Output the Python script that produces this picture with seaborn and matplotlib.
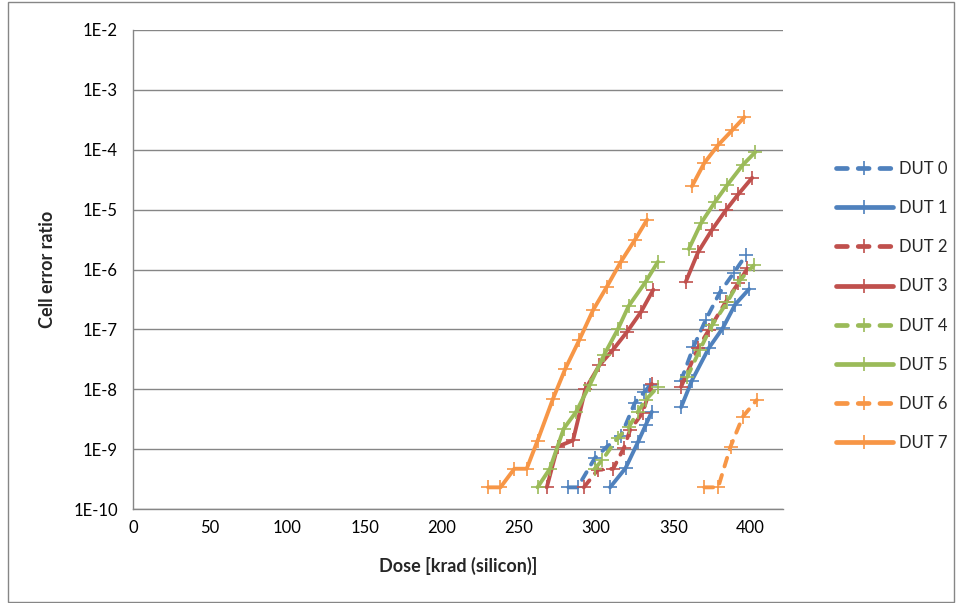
import numpy as np
import pandas as pd
import matplotlib
matplotlib.use("Agg")
import matplotlib.pyplot as plt
import seaborn as sns
from matplotlib.lines import Line2D
from matplotlib.patches import Rectangle

nan = np.nan

duts = ["DUT 0", "DUT 1", "DUT 2", "DUT 3", "DUT 4", "DUT 5", "DUT 6", "DUT 7"]

dose_0 = [282, 288, 299, 307, 316, 325, 331, 335, nan, 355, 363, 371, 380, 389, 397]
ratio_0 = [2.3e-10, 2.3e-10, 7.0e-10, 1.1e-9, 1.65e-9, 5.9e-9, 8.9e-9, 1.17e-8, nan,
           1.4e-8, 5.1e-8, 1.45e-7, 4.1e-7, 8.7e-7, 1.74e-6]

dose_1 = [309, 319, 327, 332, 336, nan, 355, 362, 373, 382, 390, 399]
ratio_1 = [2.3e-10, 4.8e-10, 1.3e-9, 2.5e-9, 4.2e-9, nan,
           5.0e-9, 1.4e-8, 4.9e-8, 1.05e-7, 2.6e-7, 4.7e-7]

dose_2 = [292, 301, 311, 318, 322, 330, 336, nan, 355, 366, 373, 384, 392, 398]
ratio_2 = [2.3e-10, 4.5e-10, 4.7e-10, 1.05e-9, 2.1e-9, 4.0e-9, 1.23e-8, nan,
           1.1e-8, 4.9e-8, 9.8e-8, 2.9e-7, 5.9e-7, 1.05e-6]

dose_3 = [268, 275, 285, 293, 302, 311, 320, 329, 337, nan, 358, 366, 375, 384, 392, 401]
ratio_3 = [2.3e-10, 1.1e-9, 1.4e-9, 1.0e-8, 2.5e-8, 4.6e-8, 9.1e-8, 1.95e-7, 4.6e-7, nan,
           6.2e-7, 1.95e-6, 4.6e-6, 9.8e-6, 1.8e-5, 3.4e-5]

dose_4 = [299, 304, 314, 321, 327, 332, 340, nan, 359, 367, 375, 385, 393, 402]
ratio_4 = [4.7e-10, 6.6e-10, 1.55e-9, 2.3e-9, 4.2e-9, 6.6e-9, 1.1e-8, nan,
           1.6e-8, 4.5e-8, 1.17e-7, 2.9e-7, 6.6e-7, 1.17e-6]

dose_5 = [262, 270, 279, 287, 296, 305, 314, 321, 332, 340, nan, 360, 368, 377, 385, 395, 403]
ratio_5 = [2.3e-10, 4.7e-10, 2.2e-9, 4.2e-9, 1.2e-8, 3.7e-8, 1.0e-7, 2.45e-7, 6.2e-7, 1.35e-6, nan,
           2.2e-6, 6.0e-6, 1.35e-5, 2.6e-5, 5.6e-5, 9.1e-5]

dose_6 = [370, 379, 387, 395, 404]
ratio_6 = [2.3e-10, 2.3e-10, 1.1e-9, 3.5e-9, 6.6e-9]

dose_7 = [230, 238, 247, 255, 262, 272, 280, 289, 298, 307, 316, 325, 333, nan,
          362, 370, 379, 388, 396]
ratio_7 = [2.3e-10, 2.3e-10, 4.7e-10, 4.7e-10, 1.38e-9, 6.9e-9, 2.2e-8, 6.6e-8, 2.1e-7,
           5.2e-7, 1.35e-6, 3.1e-6, 6.8e-6, nan,
           2.45e-5, 6.0e-5, 1.2e-4, 2.1e-4, 3.5e-4]

doses = [dose_0, dose_1, dose_2, dose_3, dose_4, dose_5, dose_6, dose_7]
ratios = [ratio_0, ratio_1, ratio_2, ratio_3, ratio_4, ratio_5, ratio_6, ratio_7]

x_ticks = [0, 50, 100, 150, 200, 250, 300, 350, 400]
y_ticks = [1e-10, 1e-9, 1e-8, 1e-7, 1e-6, 1e-5, 1e-4, 1e-3, 1e-2]
y_tick_labels = ["1E-10", "1E-9", "1E-8", "1E-7", "1E-6", "1E-5", "1E-4", "1E-3", "1E-2"]

# Build long-form table; gaps (NaN) split each series into segments
rows = []
for name, xs, ys in zip(duts, doses, ratios):
    seg = 0
    for xv, yv in zip(xs, ys):
        if np.isnan(xv):
            seg += 1
            continue
        rows.append({"dut": name, "dose": xv, "ratio": yv, "seg": seg})
df = pd.DataFrame(rows)

blue, red, green, orange = "#4F81BD", "#C0504D", "#9BBB59", "#F79646"
palette = {"DUT 0": blue, "DUT 1": blue, "DUT 2": red, "DUT 3": red,
           "DUT 4": green, "DUT 5": green, "DUT 6": orange, "DUT 7": orange}
dash = (2.3, 2.3)
dashes = {d: (dash if i % 2 == 0 else "") for i, d in enumerate(duts)}
markers = {d: "+" for d in duts}

sns.set_style("white")
plt.rcParams["font.family"] = ["Lato", "DejaVu Sans"]

fig = plt.figure(figsize=(9.56, 6.03), dpi=100)
ax = fig.add_axes([133 / 956, 1 - 509 / 603, (783 - 133) / 956, (509 - 30) / 603])

sns.lineplot(data=df, x="dose", y="ratio", hue="dut", style="dut", units="seg",
             estimator=None, sort=False, palette=palette, dashes=dashes, markers=markers,
             lw=2.8, ms=10, mew=1.2, dash_capstyle="round", legend=False, ax=ax)
for ln in ax.lines:
    ln.set_markeredgecolor(ln.get_color())

ax.set_yscale("log")
ax.set_ylim(1e-10, 1e-2)
ax.set_xlim(0, 421)
ax.set_xticks(x_ticks)
ax.set_xticklabels([str(t) for t in x_ticks])
ax.set_yticks(y_ticks)
ax.set_yticklabels(y_tick_labels)
ax.yaxis.set_minor_locator(matplotlib.ticker.NullLocator())
ax.grid(axis="y", color="#868686", lw=1.0)
ax.grid(axis="x", visible=False)
ax.set_axisbelow(True)
for s in ["top", "right"]:
    ax.spines[s].set_visible(False)
for s in ["left", "bottom"]:
    ax.spines[s].set_color("#868686")
    ax.spines[s].set_linewidth(1.0)
ax.tick_params(axis="both", which="major", length=5, width=1.0, color="#868686",
               labelsize=12, labelcolor="black", direction="out")
ax.tick_params(axis="x", pad=3)
ax.tick_params(axis="y", pad=6)
ax.set_xlabel("Dose [krad (silicon)]", fontsize=13, fontweight="bold", labelpad=15)
ax.set_ylabel("Cell error ratio", fontsize=13, fontweight="bold", labelpad=12)

handles = []
for i, d in enumerate(duts):
    h = Line2D([0], [0], color=palette[d], lw=3.4, marker="+", ms=10, mew=1.2,
               mec=palette[d], dash_capstyle="round", solid_capstyle="round")
    if i % 2 == 0:
        h.set_dashes(dash)
    handles.append(h)
fig.legend(handles, duts, loc="center left", bbox_to_anchor=(821 / 956, 1 - 306 / 603),
           frameon=False, fontsize=12, handlelength=3.4, handletextpad=0.36,
           labelspacing=1.39)

fig.patches.append(Rectangle((8 / 956, 1 / 603), 946 / 956, 600 / 603,
                             transform=fig.transFigure, fill=False,
                             edgecolor="#868686", lw=1.0))

fig.savefig("out.png", dpi=100)
